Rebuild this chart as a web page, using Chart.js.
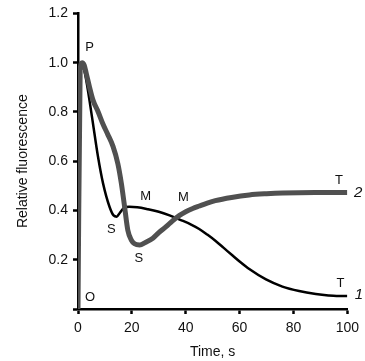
<!DOCTYPE html>
<html>
<head>
<meta charset="utf-8">
<script src="https://cdn.jsdelivr.net/npm/chart.js@4/dist/chart.umd.min.js"></script>
<style>
  html, body { margin: 0; padding: 0; background: #fff; }
  #wrap { width: 365px; height: 361px; position: relative; }
</style>
</head>
<body>
<div id="wrap"><canvas id="chart"></canvas></div>
<script>
// curve 1 (black, thin)
const time1 = [0, 0.7, 1.3, 2.5, 3.5, 4.5, 5.6, 7.4, 9.3, 11.7, 13.2, 14.4, 15.5, 17, 19, 22, 26, 30, 34, 38, 42, 45, 48, 51, 54, 57.4, 60, 63.6, 69.8, 75.9, 82.1, 88.3, 93, 96, 100];
const fluor1 = [0, 0.98, 1.0, 0.96, 0.9, 0.83, 0.75, 0.62, 0.51, 0.415, 0.38, 0.375, 0.39, 0.41, 0.415, 0.413, 0.405, 0.395, 0.38, 0.362, 0.343, 0.325, 0.302, 0.277, 0.249, 0.217, 0.193, 0.162, 0.12, 0.091, 0.073, 0.061, 0.055, 0.053, 0.053];

// curve 2 (grey, thick)
const time2 = [0, 0.8, 1.5, 2.3, 3.1, 4.3, 5.6, 7.5, 9.3, 11, 13, 14.8, 16.1, 17.3, 18.5, 19.8, 21, 22.9, 25, 27.8, 30, 32.7, 35, 37.7, 40, 42.6, 45, 48, 51, 57, 63.6, 70, 76, 88, 100];
const fluor2 = [0, 0.97, 1.0, 0.99, 0.955, 0.9, 0.847, 0.8, 0.75, 0.71, 0.66, 0.59, 0.51, 0.415, 0.32, 0.28, 0.265, 0.26, 0.27, 0.287, 0.31, 0.334, 0.357, 0.38, 0.395, 0.408, 0.418, 0.43, 0.44, 0.453, 0.463, 0.468, 0.471, 0.473, 0.473];

// curve annotations
const noteText = ['P', 'O', 'S', 'S', 'M', 'M', 'T', 'T', '2', '1'];
const noteX = [4.3, 4.5, 12.4, 22.6, 25.1, 39.1, 96.9, 97.5, 104, 104.3];
const noteY = [1.062, 0.049, 0.323, 0.205, 0.455, 0.451, 0.52, 0.104, 0.473, 0.057];
const noteItalic = [false, false, false, false, false, false, false, false, true, true];

const xTicks = [0, 20, 40, 60, 80, 100];
const yTicks = [0, 0.2, 0.4, 0.6, 0.8, 1.0, 1.2];

const FONT = '"Liberation Sans", Arial, sans-serif';

function toPoints(xs, ys) {
    return xs.map((x, i) => ({ x: x, y: ys[i] }));
}

const notesPlugin = {
    id: 'notes',
    afterDatasetsDraw(chart) {
        const ctx = chart.ctx;
        const xs = chart.scales.x;
        const ys = chart.scales.y;
        ctx.save();
        ctx.fillStyle = '#111';
        ctx.textAlign = 'center';
        ctx.textBaseline = 'middle';
        noteText.forEach((t, i) => {
            ctx.font = (noteItalic[i] ? 'italic 15px ' : '13px ') + FONT;
            ctx.fillText(t, xs.getPixelForValue(noteX[i]), ys.getPixelForValue(noteY[i]));
        });
        ctx.restore();
    }
};

new Chart(document.getElementById('chart').getContext('2d'), {
    type: 'line',
    data: {
        datasets: [
            {
                label: '2',
                data: toPoints(time2, fluor2),
                borderColor: '#505050',
                borderWidth: 5,
                pointRadius: 0,
                cubicInterpolationMode: 'monotone',
                fill: false
            },
            {
                label: '1',
                data: toPoints(time1, fluor1),
                borderColor: '#000',
                borderWidth: 2.5,
                pointRadius: 0,
                cubicInterpolationMode: 'monotone',
                fill: false
            }
        ]
    },
    options: {
        responsive: true,
        maintainAspectRatio: false,
        animation: false,
        layout: { padding: { top: 13, right: 17, left: 0, bottom: 0 } },
        plugins: { legend: { display: false }, tooltip: { enabled: false } },
        scales: {
            x: {
                type: 'linear',
                min: 0,
                max: 100,
                afterBuildTicks: s => { s.ticks = xTicks.map(v => ({ value: v })); },
                afterFit: s => { s.height = 52; },
                border: { color: '#000', width: 2.5 },
                grid: { drawOnChartArea: false, drawTicks: true, tickLength: 5, tickWidth: 2.5, tickColor: '#000' },
                ticks: { color: '#111', padding: 6, maxRotation: 0, font: { family: FONT, size: 14 } },
                title: { display: true, text: 'Time, s', color: '#111', padding: { top: 0, bottom: 0 }, font: { family: FONT, size: 14 } }
            },
            y: {
                type: 'linear',
                min: 0,
                max: 1.2,
                afterBuildTicks: s => { s.ticks = yTicks.map(v => ({ value: v })); },
                afterFit: s => { s.width = 78; },
                border: { color: '#000', width: 2.5 },
                grid: { drawOnChartArea: false, drawTicks: true, tickLength: 5, tickWidth: 2.5, tickColor: '#000' },
                ticks: {
                    color: '#111', padding: 5, font: { family: FONT, size: 14 },
                    callback: v => v === 0 ? '' : v.toFixed(1)
                },
                title: { display: true, text: 'Relative fluorescence', color: '#111', padding: { top: 15, bottom: 0 }, font: { family: FONT, size: 14 } }
            }
        }
    },
    plugins: [notesPlugin]
});
</script>
</body>
</html>
